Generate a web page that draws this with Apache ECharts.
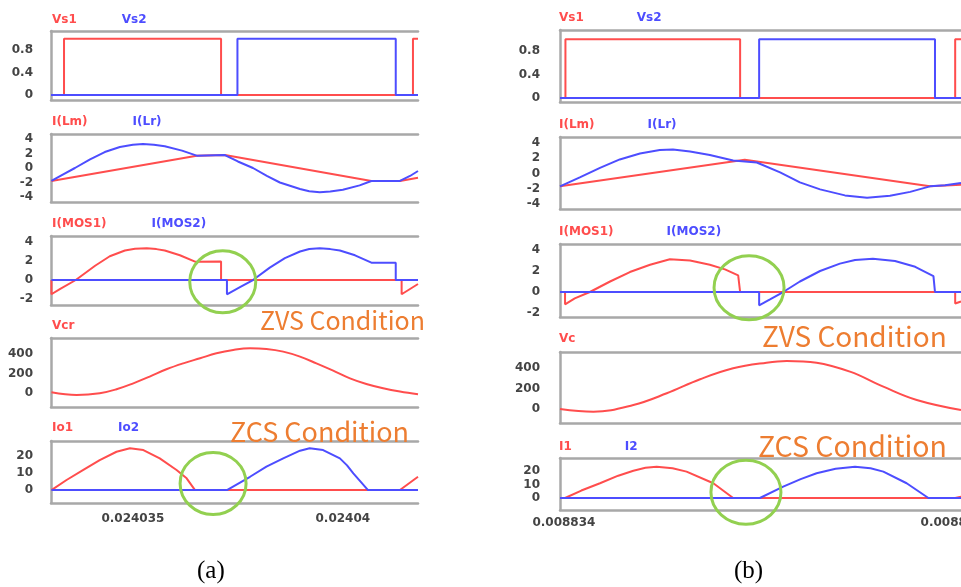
<!DOCTYPE html>
<html>
<head>
<meta charset="utf-8">
<script src="https://cdn.jsdelivr.net/npm/echarts@6/dist/echarts.min.js"></script>
<style>
html, body { margin: 0; padding: 0; background: #fff; overflow: hidden; }
#main { width: 1000px; height: 587px; }
</style>
</head>
<body>
<div id="main"></div>
<script>
// time in microseconds
// ---- (a)
var aVs1 = [[24033.05,0],[24033.36,0],[24033.36,1],[24037.10,1],[24037.10,0],[24041.67,0],[24041.67,1],[24041.79,1]];
var aVs2 = [[24033.05,0],[24037.49,0],[24037.49,1],[24041.26,1],[24041.26,0],[24041.79,0]];
var aLm = [[24033.06,-1.8],[24036.52,1.7],[24037.19,1.8],[24040.68,-1.8],[24041.36,-1.8],[24041.79,-1.35]];
var aLr = [[24033.06,-1.79],[24033.33,-0.9],[24033.62,0],[24033.98,1.2],[24034.33,2.2],[24034.69,2.9],[24035.00,3.2],
  [24035.24,3.3],[24035.50,3.2],[24035.76,3.0],[24036.17,2.4],[24036.52,1.7],[24037.19,1.79],[24037.50,0.9],[24037.86,0],
  [24038.19,-1.1],[24038.50,-2.0],[24038.98,-2.9],[24039.20,-3.2],[24039.45,-3.35],[24039.70,-3.25],[24040.00,-3.0],
  [24040.40,-2.4],[24040.68,-1.79],[24041.36,-1.79],[24041.60,-1.1],[24041.79,-0.41]];
var aMos1 = [[24033.06,0],[24033.06,-1.5],[24033.26,-0.95],[24033.64,0],[24034.10,1.5],[24034.45,2.5],[24034.81,3.1],
  [24035.05,3.28],[24035.33,3.34],[24035.56,3.25],[24035.76,3.1],[24036.12,2.6],[24036.48,1.93],[24037.10,1.95],
  [24037.10,0],[24041.40,0],[24041.40,-1.5],[24041.79,-0.42]];
var aMos2 = [[24033.06,0],[24037.24,0],[24037.24,-1.5],[24037.55,-0.75],[24037.86,0],[24038.26,1.3],[24038.62,2.3],
  [24038.98,3.0],[24039.20,3.26],[24039.45,3.34],[24039.70,3.25],[24039.93,3.1],[24040.29,2.6],[24040.68,1.82],
  [24041.26,1.82],[24041.26,0],[24041.79,0]];
var aVcr = [[24033.06,7],[24033.66,-20],[24034.21,-3],[24034.61,38],[24035.01,99],[24035.40,168],[24035.80,243],
  [24036.20,304],[24036.60,356],[24036.99,407],[24037.39,441],[24037.79,458],[24038.18,451],[24038.58,424],
  [24038.98,373],[24039.37,304],[24039.77,229],[24040.17,150],[24040.56,92],[24040.96,48],[24041.36,14],[24041.79,-14]];
var aIo1 = [[24033.06,0],[24033.42,5.9],[24033.82,11.8],[24034.21,17.6],[24034.61,22.5],[24034.93,24.5],[24035.25,23.5],
  [24035.64,18.6],[24036.04,11.8],[24036.28,6.9],[24036.48,0],[24041.36,0],[24041.79,7.8]];
var aIo2 = [[24033.06,0],[24037.24,0],[24037.79,7.8],[24038.18,13.7],[24038.58,18.6],[24038.98,23.1],[24039.21,24.5],
  [24039.53,23.5],[24039.93,18.6],[24040.10,14.5],[24040.25,9.8],[24040.60,0],[24041.79,0]];

// ---- (b)
var bVs1 = [[8833.90,0],[8834.04,0],[8834.04,1],[8838.54,1],[8838.54,0],[8844.08,0],[8844.08,1],[8844.23,1]];
var bVs2 = [[8833.90,0],[8839.03,0],[8839.03,1],[8843.56,1],[8843.56,0],[8844.23,0]];
var bLm = [[8833.90,-1.70],[8838.66,1.80],[8843.43,-1.70],[8844.23,-1.50]];
var bLr = [[8833.90,-1.70],[8834.41,-0.52],[8834.93,0.72],[8835.44,1.84],[8835.96,2.62],[8836.47,3.08],[8836.81,3.15],
  [8837.25,2.89],[8837.76,2.43],[8838.36,1.70],[8838.97,1.44],[8839.57,0.13],[8840.08,-1.18],[8840.60,-2.10],
  [8841.24,-2.89],[8841.81,-3.19],[8842.40,-2.95],[8842.92,-2.43],[8843.43,-1.70],[8843.82,-1.57],[8844.23,-1.27]];
var bMos1 = [[8833.90,0],[8834.03,0],[8834.03,-1.17],[8834.28,-0.6],[8834.67,0],[8835.19,1.0],[8835.70,1.9],
  [8836.22,2.6],[8836.73,3.11],[8837.25,3.0],[8837.76,2.6],[8838.15,2.15],[8838.49,1.59],[8838.54,0],
  [8844.08,0],[8844.08,-1.1],[8844.23,-0.9]];
var bMos2 = [[8833.90,0],[8839.03,0],[8839.03,-1.27],[8839.31,-0.7],[8839.65,0],[8840.08,1.0],[8840.60,2.0],
  [8841.11,2.7],[8841.50,3.05],[8841.96,3.17],[8842.53,2.95],[8843.05,2.4],[8843.52,1.52],[8843.56,0],[8844.23,0]];
var bVc = [[8833.90,0],[8834.76,-26],[8835.79,39],[8836.65,153],[8837.51,290],[8838.36,397],[8839.22,452],
  [8839.74,468],[8840.51,452],[8841.37,364],[8842.23,218],[8843.09,88],[8844.23,-10]];
var bI1 = [[8833.90,0],[8834.03,0],[8834.45,5.5],[8834.93,10.9],[8835.40,16.5],[8835.79,20.2],[8836.10,22.4],[8836.39,23.2],
  [8836.80,22.0],[8837.16,19.5],[8837.85,10.9],[8838.36,0],[8844.08,0],[8844.23,1]];
var bI2 = [[8833.90,0],[8839.05,0],[8839.65,8.4],[8840.10,14],[8840.51,18.3],[8841.00,21.6],[8841.50,23.2],
  [8841.90,22.0],[8842.23,19.5],[8842.83,10.9],[8843.39,0],[8844.23,0]];

// tick labels
var ticksVs = [0, 0.4, 0.8];
var ticksL = [-4, -2, 0, 2, 4];
var ticksMos = [-2, 0, 2, 4];
var ticksVc = [0, 200, 400];
var ticksIo = [0, 10, 20];
var xTicksA = [24035, 24040];
var xTicksB = [8834, 8844];

// annotation rings: [panel, t, value]
var rings = [[2, 24037.14, -0.18], [4, 24036.91, 3.9], [7, 8838.77, 0.41], [9, 8838.69, 4.2]];

var RED = '#ff4d4d', BLUE = '#4d4dff', GRAY = '#a8a8a8';
var FONT = 'DejaVu Sans';

var colA = { left: 51, width: 367, min: 24033.05, max: 24041.79, xTicks: xTicksA, legendLeft: 46, gap: 39, yMargin: 18, xMargin: 10 };
var colB = { left: 560, width: 401, min: 8833.90, max: 8844.23, xTicks: xTicksB, legendLeft: 553, gap: 47, yMargin: 20, xMargin: 7 };

var panels = [
  { col: colA, top: 31, height: 69, y: [-0.09, 1.14], ticks: ticksVs, lt: 14, s: [['Vs1', aVs1, RED], ['Vs2', aVs2, BLUE]] },
  { col: colA, top: 134, height: 68, y: [-4.69, 4.69], ticks: ticksL, lt: 116, s: [['I(Lm)', aLm, RED], ['I(Lr)', aLr, BLUE]] },
  { col: colA, top: 236, height: 69, y: [-2.63, 4.63], ticks: ticksMos, lt: 218, s: [['I(MOS1)', aMos1, RED], ['I(MOS2)', aMos2, BLUE]] },
  { col: colA, top: 338, height: 69, y: [-144, 564], ticks: ticksVc, lt: 320, s: [['Vcr', aVcr, RED, true]] },
  { col: colA, top: 441, height: 62, y: [-7.6, 28.8], ticks: ticksIo, lt: 422, s: [['Io1', aIo1, RED], ['Io2', aIo2, BLUE]], last: true },
  { col: colB, top: 30, height: 72, y: [-0.07, 1.16], ticks: ticksVs, lt: 12, s: [['Vs1', bVs1, RED], ['Vs2', bVs2, BLUE]] },
  { col: colB, top: 137, height: 72, y: [-4.68, 4.79], ticks: ticksL, lt: 119, s: [['I(Lm)', bLm, RED], ['I(Lr)', bLr, BLUE]] },
  { col: colB, top: 244, height: 73, y: [-2.38, 4.57], ticks: ticksMos, lt: 226, s: [['I(MOS1)', bMos1, RED], ['I(MOS2)', bMos2, BLUE]] },
  { col: colB, top: 352, height: 71, y: [-137, 556], ticks: ticksVc, lt: 333, s: [['Vc', bVc, RED, true]] },
  { col: colB, top: 458, height: 52, y: [-8.9, 29.6], ticks: ticksIo, lt: 441, s: [['I1', bI1, RED], ['I2', bI2, BLUE]], last: true }
];

var borderLine = { show: true, onZero: false, lineStyle: { color: GRAY, width: 2.5 } };
var grids = [], xAxes = [], yAxes = [], series = [], legends = [];

panels.forEach(function (p, i) {
  var c = p.col;
  grids.push({ left: c.left, top: p.top, width: c.width, height: p.height });
  // bottom axis carries the data
  xAxes.push({
    gridIndex: i, type: 'value', position: 'bottom', min: c.min, max: c.max,
    axisLine: borderLine, axisTick: { show: false }, splitLine: { show: false },
    axisLabel: p.last ? {
      customValues: c.xTicks, margin: c.xMargin, color: '#444', fontFamily: FONT, fontWeight: 'bold', fontSize: 12,
      alignMinLabel: 'center', alignMaxLabel: 'center', hideOverlap: false,
      formatter: function (v) { return String(parseFloat((v / 1e6).toFixed(6))); }
    } : { show: false }
  });
  // top axis only draws the frame
  xAxes.push({
    gridIndex: i, type: 'value', position: 'top', min: c.min, max: c.max,
    axisLine: borderLine, axisTick: { show: false }, splitLine: { show: false }, axisLabel: { show: false }
  });
  yAxes.push({
    gridIndex: i, type: 'value', min: p.y[0], max: p.y[1],
    axisLine: borderLine, axisTick: { show: false }, splitLine: { show: false },
    axisLabel: { customValues: p.ticks, margin: c.yMargin, color: '#444', fontFamily: FONT, fontWeight: 'bold', fontSize: 12 }
  });
  var names = [];
  p.s.forEach(function (s) {
    series.push({
      name: s[0], type: 'line', xAxisIndex: i * 2, yAxisIndex: i, data: s[1],
      showSymbol: false, symbol: 'none', smooth: s[3] ? 0.4 : false,
      lineStyle: { color: s[2], width: 2 }, itemStyle: { color: s[2] }
    });
    names.push({ name: s[0], textStyle: { color: s[2] } });
  });
  legends.push({
    left: c.legendLeft, top: p.lt, padding: 0, itemWidth: 0, itemHeight: 0, itemGap: c.gap, selectedMode: false,
    textStyle: { fontFamily: FONT, fontWeight: 'bold', fontSize: 12 }, data: names
  });
});

var chart = echarts.init(document.getElementById('main'));
chart.setOption({
  animation: false,
  backgroundColor: '#fff',
  grid: grids, xAxis: xAxes, yAxis: yAxes, legend: legends, series: series
});

var notes = [
  ['ZVS Condition', 260, 323, 25],
  ['ZCS Condition', 230, 435, 27],
  ['ZVS Condition', 762, 340, 28],
  ['ZCS Condition', 758, 450, 28.5]
];
var graphics = [];
notes.forEach(function (n) {
  graphics.push({
    type: 'text', left: n[1], top: n[2] - n[3] * 0.62, z: 20,
    style: { text: n[0], fill: '#ed7d31', font: 'normal ' + n[3] + 'px "Noto Sans CJK KR"' }
  });
});
rings.forEach(function (r) {
  var pt = chart.convertToPixel({ gridIndex: r[0] }, [r[1], r[2]]);
  graphics.push({
    type: 'ellipse', z: 30, shape: { cx: pt[0], cy: pt[1], rx: r[0] > 4 ? 35 : 33, ry: r[0] > 4 ? 32 : 31 },
    style: { fill: 'none', stroke: '#92d050', lineWidth: 3 }
  });
});
[['(a)', 211], ['(b)', 748]].forEach(function (c) {
  graphics.push({
    type: 'text', left: c[1] - 14, top: 559,
    style: { text: c[0], fill: '#000', font: 'normal 25px "Liberation Serif"' }
  });
});
chart.setOption({ graphic: graphics });
</script>
</body>
</html>
